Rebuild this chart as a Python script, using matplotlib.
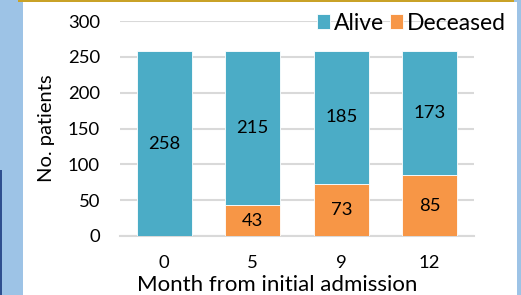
import matplotlib
matplotlib.use('Agg')
import matplotlib.pyplot as plt
from matplotlib.patches import Rectangle
import numpy as np

# Данные
months = ['0', '5', '9', '12']
alive = [258, 215, 185, 173]
deceased = [0, 43, 73, 85]

alive_color = '#4BACC6'
deceased_color = '#F79646'
bg_color = '#9DC3E6'

plt.rcParams['font.family'] = ['Lato', 'DejaVu Sans']

W, H = 521, 295
fig = plt.figure(figsize=(W / 100, H / 100), dpi=100, facecolor=bg_color)

# белая панель, золотая линия сверху и тёмная полоса слева (под осями)
fig.patches.append(Rectangle((23 / W, 0), (517 - 23) / W, (H - 2) / H, zorder=-10,
                             transform=fig.transFigure, facecolor='white', edgecolor='none'))
fig.patches.append(Rectangle((18 / W, (H - 2) / H), (514 - 18) / W, 2 / H, zorder=-10,
                             transform=fig.transFigure, facecolor='#C9A227', edgecolor='none'))
fig.patches.append(Rectangle((0, 0), 2 / W, (H - 170) / H, zorder=-10,
                             transform=fig.transFigure, facecolor='#2F4F8F', edgecolor='none'))

ax = fig.add_axes([120 / W, 1 - 236 / H, (474 - 120) / W, (236 - 21) / H])
ax.set_facecolor('none')

x = np.arange(len(months))
b1 = ax.bar(x, deceased, width=0.62, color=deceased_color, edgecolor='white', linewidth=0.6,
            label='Deceased', zorder=3)
b2 = ax.bar(x, alive, bottom=deceased, width=0.62, color=alive_color, edgecolor='white',
            linewidth=0.6, label='Alive', zorder=3)

for i in range(len(months)):
    ax.text(x[i], deceased[i] + alive[i] / 2, str(alive[i]), ha='center', va='center',
            fontsize=13.3, color='black', zorder=4)
    if deceased[i] > 0:
        ax.text(x[i], deceased[i] / 2, str(deceased[i]), ha='center', va='center',
                fontsize=13.3, color='black', zorder=4)

ax.set_xlim(-0.5, 3.5)
ax.set_ylim(0, 300)
ax.set_yticks(range(0, 301, 50))
ax.set_xticks(x)
ax.set_xticklabels(months)
ax.yaxis.grid(True, color='#D9D9D9', linewidth=1.5, zorder=0)
ax.set_axisbelow(True)
for s in ['top', 'right', 'left']:
    ax.spines[s].set_visible(False)
ax.spines['bottom'].set_color('#D9D9D9')
ax.spines['bottom'].set_linewidth(1.5)
ax.tick_params(axis='both', length=0, labelsize=13.3)
ax.tick_params(axis='y', pad=14.4)
ax.tick_params(axis='x', pad=14)

ax.set_ylabel('No. patients', fontsize=14.5, labelpad=9)
ax.set_xlabel('Month from initial admission', fontsize=16, labelpad=2.5)
ax.xaxis.label.set_x(0.444)  # подпись смещена влево, как на оригинале

ax.legend(handles=[b2, b1], loc='center right', bbox_to_anchor=(1.09, 0.99), ncol=2, frameon=False,
          fontsize=16.5, handlelength=0.6, handleheight=0.6, handletextpad=0.15, columnspacing=0.25,
          borderaxespad=0, borderpad=0)

fig.savefig('out.png', dpi=100, facecolor=fig.get_facecolor())
